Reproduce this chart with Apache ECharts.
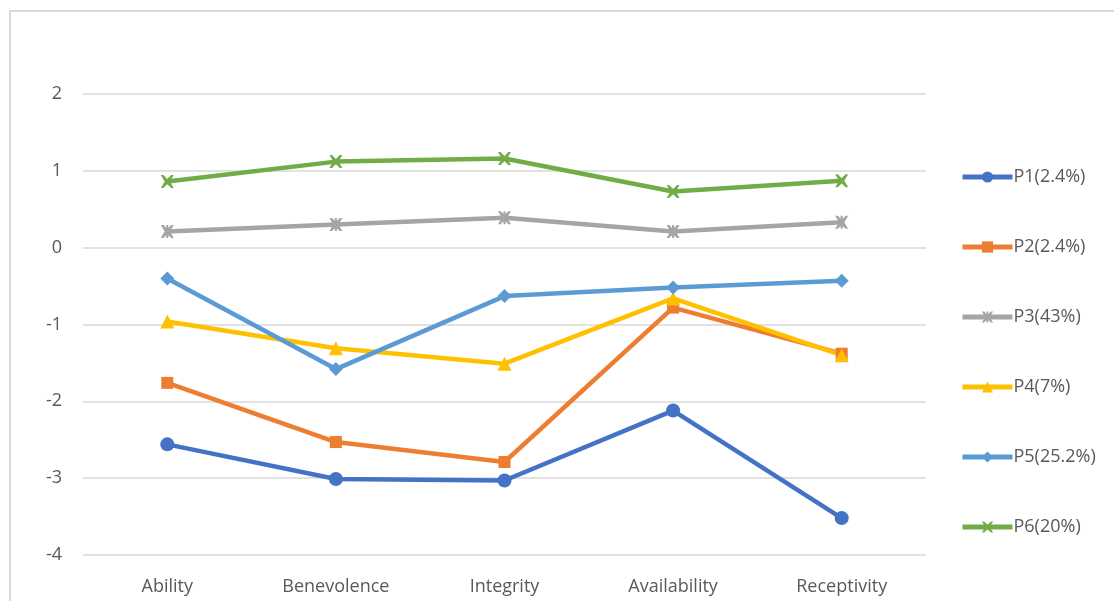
<!DOCTYPE html>
<html>
<head>
<meta charset="utf-8">
<script src="https://cdn.jsdelivr.net/npm/echarts@6/dist/echarts.min.js"></script>
<style>
  html, body { margin: 0; padding: 0; background: #fff; }
  #chart { width: 1114px; height: 601px; }
</style>
</head>
<body>
<div id="chart"></div>
<script>
// Dimension scores per profile
const categories = ['Ability', 'Benevolence', 'Integrity', 'Availability', 'Receptivity'];
const seriesNames = ['P1(2.4%)', 'P2(2.4%)', 'P3(43%)', 'P4(7%)', 'P5(25.2%)', 'P6(20%)'];
const p1 = [-2.56, -3.01, -3.03, -2.12, -3.52];
const p2 = [-1.76, -2.53, -2.79, -0.78, -1.38];
const p3 = [0.21, 0.30, 0.39, 0.21, 0.33];
const p4 = [-0.96, -1.31, -1.51, -0.66, -1.40];
const p5 = [-0.40, -1.58, -0.63, -0.52, -0.43];
const p6 = [0.86, 1.12, 1.16, 0.73, 0.87];
const yTicks = { min: -4, max: 2, interval: 1 };

const colors = ['#4472C4', '#ED7D31', '#A5A5A5', '#FFC000', '#5B9BD5', '#70AD47'];
const crossPath = 'path://M0,0 L2,0 L5,3 L8,0 L10,0 L7,5 L10,10 L8,10 L5,7 L2,10 L0,10 L3,5 Z';
const starPath = 'path://M0,0 L2,0 L5,3 L8,0 L10,0 L7,5 L10,10 L8,10 L5,7 L2,10 L0,10 L3,5 Z M4.2,0 L5.8,0 L5.8,10 L4.2,10 Z';
const symbols = ['circle', 'rect', starPath, 'triangle', 'diamond', crossPath];
const symbolSizes = [14, 12, 13, 14, 14, 13];
const values = [p1, p2, p3, p4, p5, p6];

const textColor = '#595959';
const font = 'Open Sans';

const chart = echarts.init(document.getElementById('chart'));
chart.setOption({
  backgroundColor: '#fff',
  animation: false,
  color: colors,
  graphic: [{
    type: 'rect',
    shape: { x: 10, y: 11, width: 1120, height: 620 },
    style: { fill: 'none', stroke: '#d9d9d9', lineWidth: 2 },
    silent: true
  }],
  grid: { left: 83, right: 188, top: 94, bottom: 46 },
  legend: {
    orient: 'vertical',
    left: 955,
    top: 163,
    itemWidth: 50,
    itemHeight: 14,
    itemGap: 52,
    lineStyle: { width: 5 },
    textStyle: { color: textColor, fontSize: 18, fontFamily: font, padding: [0, 0, 0, -4] },
    data: seriesNames
  },
  xAxis: {
    type: 'category',
    data: categories,
    boundaryGap: true,
    axisLine: { show: false },
    axisTick: { show: false },
    axisLabel: { color: textColor, fontSize: 18, fontFamily: font, margin: 23 }
  },
  yAxis: {
    type: 'value',
    min: yTicks.min,
    max: yTicks.max,
    interval: yTicks.interval,
    axisLine: { show: false },
    axisTick: { show: false },
    axisLabel: { color: textColor, fontSize: 18, fontFamily: font, margin: 21 },
    splitLine: { lineStyle: { color: '#d9d9d9', width: 1.5 } }
  },
  series: seriesNames.map((name, i) => ({
    name: name,
    type: 'line',
    data: values[i],
    symbol: symbols[i],
    symbolSize: symbolSizes[i],
    showAllSymbol: true,
    lineStyle: { width: 4.5, color: colors[i] },
    itemStyle: { color: colors[i] }
  }))
});
</script>
</body>
</html>
